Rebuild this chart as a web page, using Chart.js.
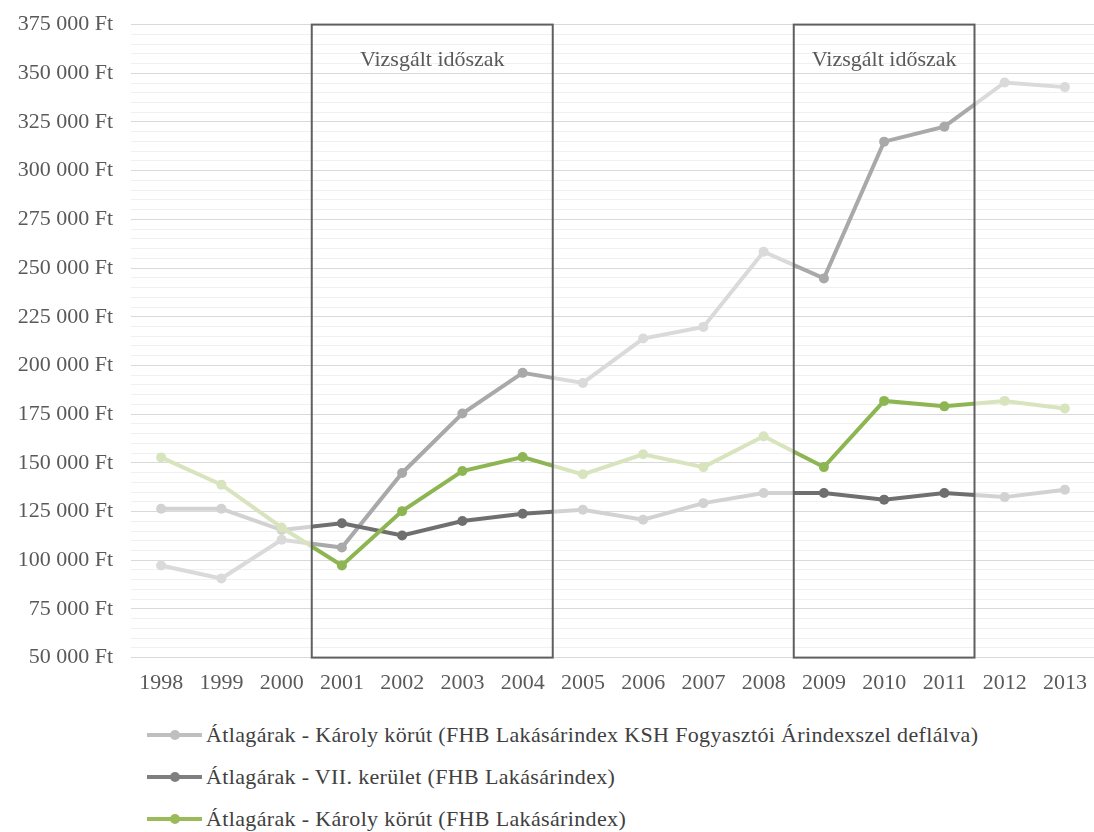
<!DOCTYPE html>
<html>
<head>
<meta charset="utf-8">
<script src="https://cdn.jsdelivr.net/npm/chart.js@4"></script>
<style>
  html, body { margin: 0; padding: 0; background: #fff; overflow: hidden; }
  #wrap { position: relative; width: 1100px; height: 832px; }
  #chartBox { position: absolute; left: 0; top: 0; width: 1100px; height: 708px; }
  #legend { position: absolute; left: 147px; top: 714px; font-family: "Liberation Serif", serif; font-size: 22px; letter-spacing: 0.35px; color: #404040; }
  .row { height: 42px; display: flex; align-items: center; }
  .mark { position: relative; width: 55px; height: 4px; margin-right: 4px; }
  .mark span { position: absolute; left: 23px; top: -3px; width: 10px; height: 10px; border-radius: 50%; }
</style>
</head>
<body>
<div id="wrap">
  <div id="chartBox"><canvas id="chart"></canvas></div>
  <div id="legend"></div>
</div>
<script>
// adatok
const years = ['1998', '1999', '2000', '2001', '2002', '2003', '2004', '2005',
               '2006', '2007', '2008', '2009', '2010', '2011', '2012', '2013'];
const karolyDeflalt = [97300, 90600, 110500, 106500, 144800, 175300, 196200, 191000,
                       213800, 219800, 258400, 244700, 314900, 322600, 345300, 342900];
const hetedikKerulet = [126400, 126400, 115500, 119000, 112700, 120100, 123900, 125900,
                        120800, 129300, 134500, 134500, 131100, 134500, 132400, 136200];
const karolyKorut = [152800, 138800, 116800, 97300, 125200, 145800, 153000, 144100,
                     154400, 147800, 163600, 147800, 181800, 179000, 181800, 177900];
const seriesNames = [
  'Átlagárak - Károly körút (FHB Lakásárindex KSH Fogyasztói Árindexszel deflálva)',
  'Átlagárak - VII. kerület (FHB Lakásárindex)',
  'Átlagárak - Károly körút (FHB Lakásárindex)'
];
// vizsgált időszakok (első és utolsó év)
const periods = [['2001', '2004'], ['2009', '2011']];
const periodLabel = 'Vizsgált időszak';
const yMin = 50000, yMax = 375000, yMinor = 5000, yMajor = 25000;

// színek: [időszakon kívül, időszakon belül, jelmagyarázat]
const colors = [
  ['#dadada', '#a9a9a9', '#bfbfbf'],
  ['#d2d2d2', '#6f6f6f', '#7f7f7f'],
  ['#d8e4be', '#8db653', '#9bbb59']
];

function inPeriod(i) {
  return periods.some(p => i >= years.indexOf(p[0]) && i <= years.indexOf(p[1]));
}

function periodGradient(chart, light, dark) {
  const area = chart.chartArea;
  const x = chart.scales.x;
  if (!area || !x) return light;
  const g = chart.ctx.createLinearGradient(area.left, 0, area.right, 0);
  const w = area.right - area.left;
  g.addColorStop(0, light);
  periods.forEach(p => {
    const a = (x.getPixelForValue(years.indexOf(p[0]) - 0.5) - area.left) / w;
    const b = (x.getPixelForValue(years.indexOf(p[1]) + 0.5) - area.left) / w;
    g.addColorStop(a, light);
    g.addColorStop(a, dark);
    g.addColorStop(b, dark);
    g.addColorStop(b, light);
  });
  g.addColorStop(1, light);
  return g;
}

function makeDataset(name, data, c, order) {
  return {
    label: name,
    data: data,
    order: order,
    borderWidth: 4,
    pointRadius: 5,
    pointBorderWidth: 0,
    borderColor: ctx => periodGradient(ctx.chart, c[0], c[1]),
    pointBackgroundColor: ctx => inPeriod(ctx.dataIndex) ? c[1] : c[0],
    pointBorderColor: ctx => inPeriod(ctx.dataIndex) ? c[1] : c[0],
    tension: 0
  };
}

// vizsgált időszak keretei
const periodBoxes = {
  id: 'periodBoxes',
  afterDatasetsDraw(chart) {
    const { ctx, chartArea, scales } = chart;
    ctx.save();
    ctx.strokeStyle = '#5f5f5f';
    ctx.lineWidth = 2;
    ctx.fillStyle = '#595959';
    ctx.font = '22px "Liberation Serif", serif';
    ctx.textAlign = 'center';
    ctx.textBaseline = 'middle';
    periods.forEach(p => {
      const a = scales.x.getPixelForValue(years.indexOf(p[0]) - 0.5);
      const b = scales.x.getPixelForValue(years.indexOf(p[1]) + 0.5);
      ctx.strokeRect(a, chartArea.top, b - a, chartArea.bottom - chartArea.top);
      ctx.fillText(periodLabel, (a + b) / 2, chartArea.top + 36);
    });
    ctx.restore();
  }
};

function formatFt(v) {
  return String(v).replace(/\B(?=(\d{3})+(?!\d))/g, ' ') + ' Ft';
}

function createChart() {
  const ctx = document.getElementById('chart').getContext('2d');
  new Chart(ctx, {
    type: 'line',
    data: {
      labels: years,
      datasets: [
        makeDataset(seriesNames[0], karolyDeflalt, colors[0], 3),
        makeDataset(seriesNames[1], hetedikKerulet, colors[1], 2),
        makeDataset(seriesNames[2], karolyKorut, colors[2], 1)
      ]
    },
    options: {
      responsive: true,
      maintainAspectRatio: false,
      animation: false,
      layout: { padding: { top: 0, right: 0, bottom: 8, left: 0 } },
      plugins: {
        legend: { display: false },
        tooltip: { enabled: false }
      },
      scales: {
        x: {
          offset: true,
          grid: { display: false },
          border: { display: false },
          ticks: {
            color: '#595959',
            padding: 4,
            font: { family: '"Liberation Serif", serif', size: 22 },
            maxRotation: 0
          }
        },
        y: {
          min: yMin,
          max: yMax,
          afterFit(scale) { scale.width = 131; },
          border: { display: false },
          grid: {
            drawTicks: false,
            color: c => c.tick && c.tick.value % yMajor === 0 ? '#d9d9d9' : '#f0f0f0'
          },
          ticks: {
            stepSize: yMinor,
            autoSkip: false,
            padding: 18,
            color: '#595959',
            font: { family: '"Liberation Serif", serif', size: 22, lineHeight: 0.6 },
            callback: v => v % yMajor === 0 ? formatFt(v) : ''
          }
        }
      }
    },
    plugins: [periodBoxes]
  });
}

function createLegend() {
  const box = document.getElementById('legend');
  seriesNames.forEach((name, i) => {
    const row = document.createElement('div');
    row.className = 'row';
    row.innerHTML = `<div class="mark" style="background:${colors[i][2]}"><span style="background:${colors[i][2]}"></span></div><div>${name}</div>`;
    box.appendChild(row);
  });
}

window.addEventListener('load', () => {
  createChart();
  createLegend();
});
</script>
</body>
</html>
